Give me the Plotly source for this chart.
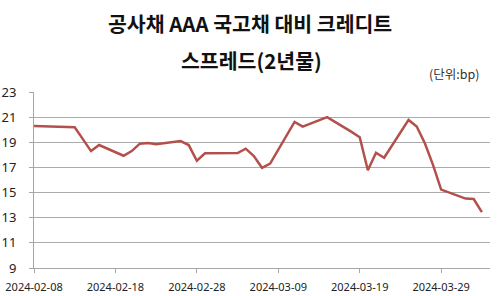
import plotly.graph_objects as go

dates = ["2024-02-08", "2024-02-13", "2024-02-14", "2024-02-15", "2024-02-16",
         "2024-02-19", "2024-02-20", "2024-02-21", "2024-02-22", "2024-02-23",
         "2024-02-26", "2024-02-27", "2024-02-28", "2024-02-29",
         "2024-03-04", "2024-03-05", "2024-03-06", "2024-03-07", "2024-03-08",
         "2024-03-11", "2024-03-12", "2024-03-13", "2024-03-14", "2024-03-15",
         "2024-03-18", "2024-03-19", "2024-03-20", "2024-03-21", "2024-03-22",
         "2024-03-25", "2024-03-26", "2024-03-27", "2024-03-28", "2024-03-29",
         "2024-04-01", "2024-04-02", "2024-04-03"]
spread = [20.30, 20.20, 19.25, 18.30, 18.78,
          17.93, 18.30, 18.89, 18.94, 18.84,
          19.10, 18.78, 17.53, 18.12,
          18.14, 18.49, 17.90, 16.97, 17.30,
          20.62, 20.25, 20.49, 20.78, 21.00,
          19.83, 19.40, 16.78, 18.17, 17.77,
          20.78, 20.25, 18.92, 17.20, 15.24,
          14.52, 14.49, 13.45]

tick_dates = ["2024-02-08", "2024-02-18", "2024-02-28", "2024-03-09", "2024-03-19", "2024-03-29"]
title_line1 = "공사채 AAA 국고채 대비 크레디트"
title_line2 = "스프레드(2년물)"
unit_text = "(단위:bp)"

fig = go.Figure()
fig.add_trace(go.Scatter(
    x=dates, y=spread, mode="lines",
    line=dict(color="#B4504C", width=2.5),
    hoverinfo="x+y",
))

axis_font = dict(family="Noto Sans, DejaVu Sans, sans-serif", color="#222222")

fig.update_layout(
    width=500, height=296,
    margin=dict(l=34, r=10, t=92, b=28),
    paper_bgcolor="white", plot_bgcolor="white",
    showlegend=False,
    xaxis=dict(
        type="date",
        range=["2024-02-08", "2024-04-04"],
        tickvals=tick_dates,
        ticktext=tick_dates,
        tickfont=dict(size=11, **axis_font),
        showgrid=False,
        showline=True, linecolor="#A6A6A6", linewidth=1,
        ticks="outside", ticklen=4, tickcolor="#A6A6A6",
        ticklabelstandoff=5,
        automargin=False,
        zeroline=False,
    ),
    yaxis=dict(
        range=[9, 23],
        tickvals=[9, 11, 13, 15, 17, 19, 21, 23],
        tickfont=dict(size=13, **axis_font),
        showgrid=True, gridcolor="#ABABAB", gridwidth=1,
        showline=True, linecolor="#A6A6A6", linewidth=1,
        ticks="outside", ticklen=4, tickcolor="#A6A6A6",
        ticklabelstandoff=10,
        automargin=False,
        zeroline=False,
    ),
    annotations=[
        dict(text="<b>" + title_line1 + "</b>", x=250, y=23, xref="paper", yref="paper",
             xanchor="center", yanchor="middle", showarrow=False,
             font=dict(family="Noto Sans CJK KR", size=20.5, color="#111111")),
        dict(text="<b>" + title_line2 + "</b>", x=251, y=60, xref="paper", yref="paper",
             xanchor="center", yanchor="middle", showarrow=False,
             font=dict(family="Noto Sans CJK KR", size=20.5, color="#111111")),
        dict(text=unit_text, x=481, y=73, xref="paper", yref="paper",
             xanchor="right", yanchor="middle", showarrow=False,
             font=dict(family="Noto Sans CJK KR", size=12.5, color="#333333")),
    ],
)

# Convert pixel-based annotation positions to paper coordinates
plot_w = 500 - 34 - 10
plot_h = 296 - 92 - 28
for ann in fig.layout.annotations:
    px, py = ann.x, ann.y
    ann.x = (px - 34) / plot_w
    ann.y = (296 - 28 - py) / plot_h

fig.write_html("out.html")
